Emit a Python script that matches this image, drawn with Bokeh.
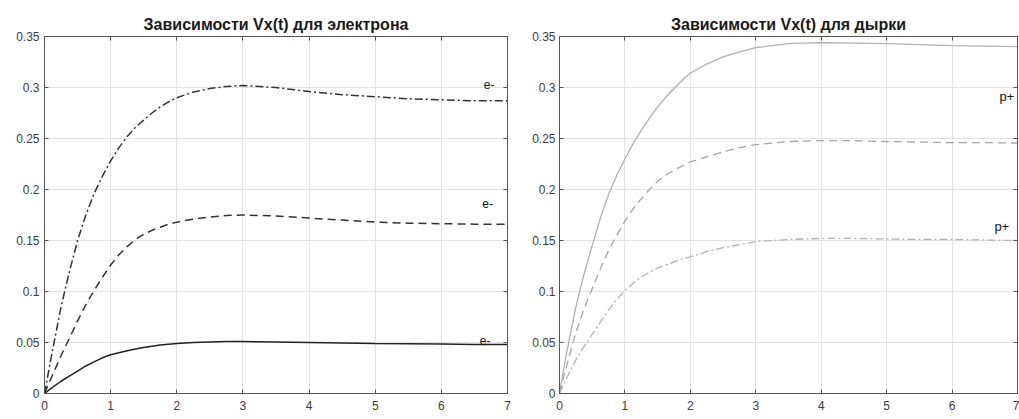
from bokeh.plotting import figure
from bokeh.layouts import row
from bokeh.models import LinearAxis, FixedTicker, Range1d
from bokeh.core.properties import value
from bokeh.embed import file_html
from bokeh.resources import INLINE

# ---------------- data ----------------
t = [0, 0.1, 0.25, 0.375, 0.5, 0.625, 0.75, 0.875, 1.0, 1.125, 1.25, 1.375, 1.5, 1.625, 1.75, 1.875,
     2.0, 2.25, 2.5, 2.75, 3.0, 3.5, 4.0, 4.5, 5.0, 5.5, 6.0, 6.5, 7.0]

e_dashdot = [0, 0.035, 0.085, 0.119, 0.150, 0.175, 0.196, 0.213, 0.228, 0.241, 0.252, 0.261, 0.268,
             0.275, 0.281, 0.286, 0.290, 0.2955, 0.299, 0.301, 0.302, 0.300, 0.296, 0.293, 0.291,
             0.289, 0.288, 0.287, 0.287]
e_dashed = [0, 0.015, 0.037, 0.054, 0.071, 0.087, 0.101, 0.114, 0.126, 0.136, 0.144, 0.151, 0.156,
            0.160, 0.163, 0.166, 0.168, 0.171, 0.173, 0.1745, 0.175, 0.174, 0.172, 0.170, 0.168,
            0.167, 0.1665, 0.166, 0.166]
e_solid = [0, 0.005, 0.012, 0.017, 0.022, 0.027, 0.031, 0.035, 0.038, 0.040, 0.042, 0.0437, 0.045,
           0.0463, 0.0475, 0.0483, 0.049, 0.050, 0.0505, 0.051, 0.051, 0.0505, 0.050, 0.0495, 0.049,
           0.0488, 0.0485, 0.048, 0.048]

h_solid = [0, 0.037, 0.085, 0.117, 0.145, 0.172, 0.195, 0.214, 0.230, 0.245, 0.258, 0.270, 0.281,
           0.2905, 0.299, 0.307, 0.314, 0.323, 0.330, 0.335, 0.339, 0.343, 0.344, 0.3435, 0.343,
           0.342, 0.341, 0.3405, 0.340]
h_dashed = [0, 0.025, 0.060, 0.083, 0.103, 0.122, 0.140, 0.155, 0.169, 0.181, 0.191, 0.200, 0.208,
            0.214, 0.219, 0.223, 0.227, 0.232, 0.237, 0.241, 0.244, 0.247, 0.248, 0.2478, 0.247,
            0.2465, 0.246, 0.246, 0.2455]
h_dashdot = [0, 0.014, 0.033, 0.046, 0.058, 0.070, 0.082, 0.092, 0.101, 0.108, 0.114, 0.119, 0.123,
             0.126, 0.129, 0.132, 0.134, 0.139, 0.143, 0.146, 0.149, 0.151, 0.152, 0.152, 0.1515,
             0.151, 0.151, 0.1505, 0.150]

e_label_t = [6.72, 6.70, 6.66]
e_label_v = [0.303, 0.186, 0.052]
e_label_text = ["e-", "e-", "e-"]

p_label_t = [6.84, 6.76]
p_label_v = [0.291, 0.164]
p_label_text = ["p+", "p+"]

x_ticks = [0, 1, 2, 3, 4, 5, 6, 7]
x_tick_labels = ["0", "1", "2", "3", "4", "5", "6", "7"]
y_ticks = [0, 0.05, 0.1, 0.15, 0.2, 0.25, 0.3, 0.35]
y_tick_labels = ["0", "0.05", "0.1", "0.15", "0.2", "0.25", "0.3", "0.35"]

title_e = "Зависимости Vx(t) для электрона"
title_h = "Зависимости Vx(t) для дырки"

FONT = "Liberation Sans"
AX_COLOR = "#555555"
LBL_COLOR = "#3c3c3c"


def style_axis(ax, ticks, labels, show_labels=True, standoff=5):
    ax.ticker = FixedTicker(ticks=ticks)
    ax.major_tick_in = 4
    ax.major_tick_out = 0
    ax.minor_tick_line_color = None
    ax.axis_line_color = AX_COLOR
    ax.major_tick_line_color = AX_COLOR
    ax.major_label_text_font = FONT
    if show_labels:
        ax.major_label_overrides = {tk: lb for tk, lb in zip(ticks, labels)}
        ax.major_label_text_color = LBL_COLOR
        ax.major_label_text_font_size = "12px"
        ax.major_label_standoff = standoff
    else:
        ax.major_label_text_color = None
        ax.major_label_text_font_size = "0px"
        ax.major_label_standoff = 0


def make_fig(title, width, height, bl, br, bt, bb, ystand):
    p = figure(width=width, height=height, x_range=Range1d(0, 7), y_range=Range1d(0, 0.35),
               output_backend="svg", toolbar_location=None,
               min_border_left=bl, min_border_right=br, min_border_top=bt, min_border_bottom=bb)
    p.title.text = title
    p.title.text_font = FONT
    p.title.text_font_size = "16px"
    p.title.text_font_style = "bold"
    p.title.text_color = "#1a1a1a"
    p.title.align = "center"
    p.title.standoff = 7
    p.outline_line_color = AX_COLOR
    p.outline_line_width = 1
    p.background_fill_color = "white"
    p.border_fill_color = "white"
    style_axis(p.xaxis[0], x_ticks, x_tick_labels, True, 7)
    style_axis(p.yaxis[0], y_ticks, y_tick_labels, True, ystand)
    top = LinearAxis()
    style_axis(top, x_ticks, x_tick_labels, False)
    p.add_layout(top, "above")
    right = LinearAxis()
    style_axis(right, y_ticks, y_tick_labels, False)
    p.add_layout(right, "right")
    p.xgrid.ticker = FixedTicker(ticks=x_ticks)
    p.ygrid.ticker = FixedTicker(ticks=y_ticks)
    for g in (p.xgrid[0], p.ygrid[0]):
        g.grid_line_color = "#e2e2e2"
        g.grid_line_width = 1
    return p


H = 418
p1 = make_fig(title_e, 517, H, 44, 10, 31, 25, 5)
p1.line(t, e_dashdot, line_color="#333333", line_width=1.5, line_dash="8 3 2 3")
p1.line(t, e_dashed, line_color="#333333", line_width=1.5, line_dash="8 5")
p1.line(t, e_solid, line_color="#222222", line_width=1.5)
p1.text(x=e_label_t, y=e_label_v, text=e_label_text, text_font=value(FONT),
        text_font_size=value("12px"), text_color="#111111",
        text_align="center", text_baseline="middle")

p2 = make_fig(title_h, 502, H, 42, 2, 36, 22, 4)
p2.line(t, h_solid, line_color="#b0b0b0", line_width=1.3)
p2.line(t, h_dashed, line_color="#a5a5a5", line_width=1.3, line_dash="8 5")
p2.line(t, h_dashdot, line_color="#b3b3b3", line_width=1.3, line_dash="8 3 2 3")
p2.text(x=p_label_t, y=p_label_v, text=p_label_text, text_font=value(FONT),
        text_font_size=value("13px"), text_color="#111111",
        text_align="center", text_baseline="middle")

layout = row(p1, p2)
open("out.html", "w").write(file_html(layout, INLINE))
